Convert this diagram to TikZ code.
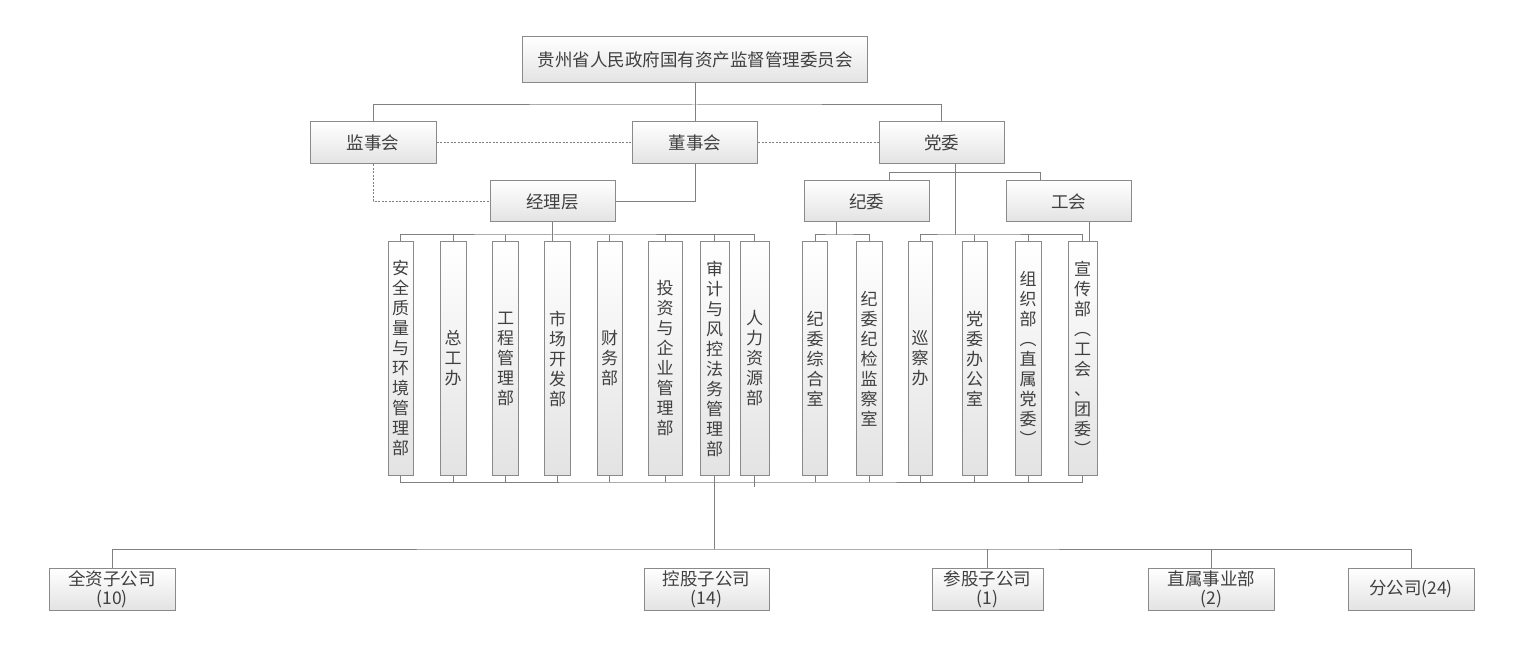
\documentclass[tikz,border=0pt]{standalone}
\usepackage{fontspec}
\setmainfont{Noto Sans CJK SC}
\definecolor{ln}{HTML}{808080}
\definecolor{bd}{HTML}{8A8A8A}
\definecolor{tx}{HTML}{404040}
\tikzset{
  box/.style={draw=bd, line width=1pt, top color=white, bottom color=black!11, text=tx, inner sep=0pt, align=center, font=\fontsize{17.5}{19}\selectfont},
  hbox/.style={box, minimum width=125pt, minimum height=42pt},
  vbox/.style={box, minimum height=233pt, font=\fontsize{17}{20}\selectfont},
  conn/.style={draw=ln, line width=1pt},
  dotline/.style={draw=ln, line width=1pt, dash pattern=on 2pt off 1.5pt},
}
\begin{document}
\begin{tikzpicture}[x=1pt,y=-1pt]
\useasboundingbox (0,0) rectangle (1522,660);
% top levels
\node[hbox, minimum width=345pt, minimum height=46pt] (top) at (695,60) {贵州省人民政府国有资产监督管理委员会};
\node[hbox, minimum width=126pt] (jsh) at (373,143) {监事会};
\node[hbox] (dsh) at (695,143) {董事会};
\node[hbox] (dw) at (941.5,143) {党委};
\node[hbox, minimum height=41pt] (jl) at (552.5,201.5) {经理层};
\node[hbox, minimum height=41pt] (jw) at (866.5,201.5) {纪委};
\node[hbox, minimum height=41pt] (gh) at (1068.5,201.5) {工会};
% columns
\node[vbox, minimum width=25pt] (c1) at (400.5,358.5) {安\\全\\质\\量\\与\\环\\境\\管\\理\\部};
\node[vbox, minimum width=26pt] (c2) at (453,358.5) {总\\工\\办};
\node[vbox, minimum width=26pt] (c3) at (505.5,358.5) {工\\程\\管\\理\\部};
\node[vbox, minimum width=26pt] (c4) at (557.5,358.5) {市\\场\\开\\发\\部};
\node[vbox, minimum width=25pt] (c5) at (609.5,358.5) {财\\务\\部};
\node[vbox, minimum width=34pt] (c6) at (665,358.5) {投\\资\\与\\企\\业\\管\\理\\部};
\node[vbox, minimum width=29pt] (c7) at (714.5,358.5) {审\\计\\与\\风\\控\\法\\务\\管\\理\\部};
\node[vbox, minimum width=29pt] (c8) at (754.5,358.5) {人\\力\\资\\源\\部};
\node[vbox, minimum width=25pt] (c9) at (815,358.5) {纪\\委\\综\\合\\室};
\node[vbox, minimum width=26pt] (c10) at (869,358.5) {纪\\委\\纪\\检\\监\\察\\室};
\node[vbox, minimum width=24pt] (c11) at (920,358.5) {巡\\察\\办};
\node[vbox, minimum width=25pt] (c12) at (974.5,358.5) {党\\委\\办\\公\\室};
\node[vbox, minimum width=26pt] (c13) at (1028,358.5) {组\\织\\部\\︵\\直\\属\\党\\委\\︶};
\node[vbox, minimum width=29pt] (c14) at (1082.5,358.5) {宣\\传\\部\\︵\\工\\会\\、\\团\\委\\︶};
% bottom
\node[hbox, minimum width=126pt] (b1) at (112,589) {全资子公司\\(10)};
\node[hbox] (b2) at (706.5,589) {控股子公司\\(14)};
\node[hbox, minimum width=111pt] (b3) at (987.5,589) {参股子公司\\(1)};
\node[hbox, minimum width=126pt] (b4) at (1211.5,589) {直属事业部\\(2)};
\node[hbox, minimum width=126pt] (b5) at (1411,589) {分公司(24)};
% connectors top
\coordinate (busA) at (695,105);
\draw[conn] (top.south) -- (dsh.north);
\draw[conn] (jsh.north) |- (busA) -| (dw.north);
\draw[dotline] (jsh.east) -- (dsh.west);
\draw[dotline] (dsh.east) -- (dw.west);
\draw[dotline] (jsh.south) |- (jl.west);
\draw[conn] (dsh.south) |- (jl.east);
% party
\coordinate (pbus) at (955.5,235);
\coordinate (pj) at (955.5,172.5);
\draw[conn] ([xshift=14pt]dw.south) -- (pbus);
\draw[conn] ([xshift=22.5pt]jw.north) |- (pj) -| ([xshift=-28.5pt]gh.north);
\coordinate (jbus) at (836.5,235);
\draw[conn] ([xshift=-30pt]jw.south) -- (jbus);
\draw[conn] (c9.north) |- (jbus) -| (c10.north);
\draw[conn] (c11.north) |- (pbus) -| (c14.north);
\draw[conn] (c12.north) -- (c12.north |- pbus);
\draw[conn] (c13.north) -- (c13.north |- pbus);
\draw[conn] ([xshift=20.5pt]gh.south) -- ([xshift=6.5pt]c14.north);
% management
\coordinate (mbus) at (552.5,235);
\draw[conn] (jl.south) -- (jl.south |- c4.north);
\draw[conn] (c1.north) |- (mbus) -| (c8.north);
\foreach \c in {c2,c3,c5,c6,c7} \draw[conn] (\c.north) -- (\c.north |- mbus);
% lower bus
\coordinate (lbus) at (714.5,482);
\draw[conn] (c1.south) |- (lbus) -| (c14.south);
\foreach \c in {c2,c3,c4,c5,c6,c9,c10,c11,c12,c13} \draw[conn] (\c.south) -- (\c.south |- lbus);
\coordinate (c8tick) at (754.5,487);
\draw[conn] (c8.south) -- (c8tick);
\coordinate (bbus) at (714.5,549);
\draw[conn] (c7.south) -- (bbus);
\draw[conn] (b1.north) |- (bbus) -| (b5.north);
\draw[conn] (b3.north) -- (b3.north |- bbus);
\draw[conn] (b4.north) -- (b4.north |- bbus);
\end{tikzpicture}
\end{document}
